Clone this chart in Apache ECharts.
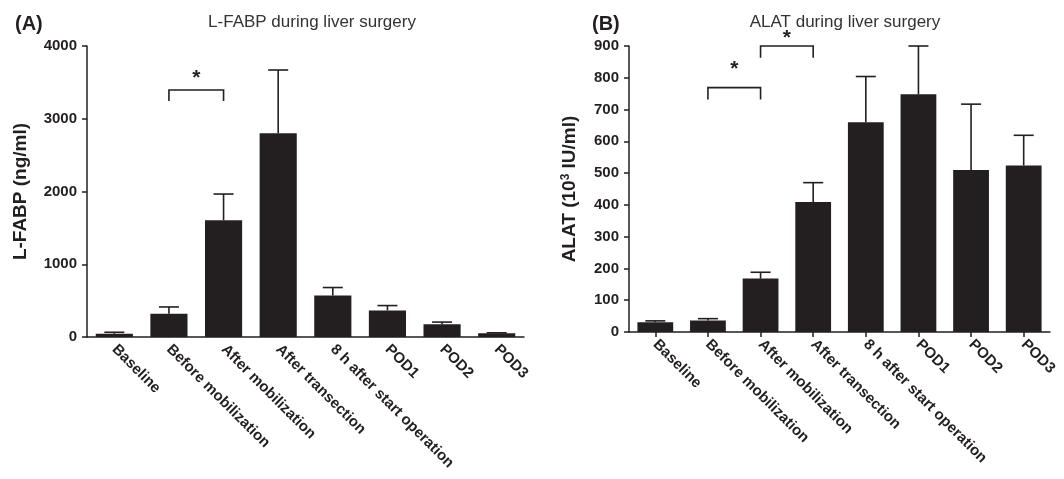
<!DOCTYPE html>
<html><head><meta charset="utf-8">
<script src="https://cdn.jsdelivr.net/npm/echarts@6/dist/echarts.min.js"></script>
<style>html,body{margin:0;padding:0;background:#fff}#c{width:1064px;height:479px}</style>
</head><body><div id="c"></div>
<script>
const categories = ['Baseline','Before mobilization','After mobilization','After transection','8 h after start operation','POD1','POD2','POD3'];
const fabpMean = [45, 320, 1605, 2800, 570, 365, 175, 50];
const fabpErr  = [65, 413, 1965, 3670, 680, 432, 205, 58];
const alatMean = [31, 36, 168, 409, 660, 748, 510, 524];
const alatErr  = [35, 42, 188, 470, 804, 900, 717, 619];
// brackets: [leftCat, rightCat, topValue, legValue, starValue]
const fabpBrackets = [[1, 2, 3395, 3243, 3560]];
const alatBrackets = [[1, 2, 769, 732, 826], [2, 3, 900, 863, 925]];
const fabpTicks = {min: 0, max: 4000, interval: 1000};
const alatTicks = {min: 0, max: 900, interval: 100};

const INK = '#231f20';
const FONT = '"Liberation Sans", Arial, sans-serif';

function errSeries(xi, yi, mean, err) {
  return {
    type: 'custom', xAxisIndex: xi, yAxisIndex: yi, z: 1,
    data: mean.map((m, i) => [i, m, err[i]]),
    renderItem: function (params, api) {
      const base = api.coord([api.value(0), api.value(1)]);
      const top = api.coord([api.value(0), api.value(2)]);
      const half = 10;
      return {
        type: 'group', children: [
          {type: 'line', shape: {x1: base[0], y1: base[1], x2: top[0], y2: top[1]}, style: {stroke: INK, lineWidth: 1.6}},
          {type: 'line', shape: {x1: top[0] - half, y1: top[1], x2: top[0] + half, y2: top[1]}, style: {stroke: INK, lineWidth: 1.6}}
        ]
      };
    }
  };
}
function bracketSeries(xi, yi, br) {
  return {
    type: 'custom', xAxisIndex: xi, yAxisIndex: yi, z: 5, clip: false,
    data: br,
    renderItem: function (params, api) {
      const l = api.coord([api.value(0), api.value(2)]);
      const r = api.coord([api.value(1), api.value(2)]);
      const lb = api.coord([api.value(0), api.value(3)]);
      const s = api.coord([(api.value(0) + api.value(1)) / 2, api.value(4)]);
      const sx = (l[0] + r[0]) / 2;
      return {
        type: 'group', children: [
          {type: 'polyline', shape: {points: [[l[0], lb[1]], [l[0], l[1]], [r[0], r[1]], [r[0], lb[1]]]}, style: {stroke: INK, lineWidth: 1.6, fill: 'none'}},
          {type: 'text', x: sx, y: s[1], style: {text: '*', font: 'bold 21px ' + FONT, fill: INK, align: 'center', verticalAlign: 'middle'}}
        ]
      };
    }
  };
}

const axisLabelX = {interval: 0, rotate: -45, fontFamily: FONT, fontWeight: 'bold', fontSize: 15, color: INK, margin: 10};
const axisLabelY = {fontFamily: FONT, fontWeight: 'bold', fontSize: 15, color: INK, margin: 10, formatter: function (v) { return String(v); }};
const axisLineStyle = {lineStyle: {color: INK, width: 1.5}};

const chart = echarts.init(document.getElementById('c'), null, {renderer: 'canvas'});
chart.setOption({
  animation: false,
  backgroundColor: '#fff',
  title: [
    {text: '(A)', left: 10, top: 9, textStyle: {fontFamily: FONT, fontWeight: 'bold', fontSize: 20, color: INK}},
    {text: '(B)', left: 587, top: 9, textStyle: {fontFamily: FONT, fontWeight: 'bold', fontSize: 20, color: INK}},
    {text: 'L-FABP during liver surgery', left: 307, top: 9, textAlign: 'center', textStyle: {fontFamily: FONT, fontWeight: 'normal', fontSize: 17, color: '#333'}},
    {text: 'ALAT during liver surgery', left: 840, top: 9, textAlign: 'center', textStyle: {fontFamily: FONT, fontWeight: 'normal', fontSize: 17, color: '#333'}}
  ],
  grid: [
    {left: 87, right: 540, top: 46, bottom: 142},
    {left: 629, right: 14, top: 46, bottom: 147}
  ],
  xAxis: [
    {gridIndex: 0, type: 'category', data: categories, axisLine: axisLineStyle, axisTick: {show: false}, axisLabel: axisLabelX},
    {gridIndex: 1, type: 'category', data: categories, axisLine: axisLineStyle, axisTick: {show: true, alignWithLabel: true, length: 5, lineStyle: {color: INK, width: 1.5}}, axisLabel: axisLabelX}
  ],
  yAxis: [
    {gridIndex: 0, type: 'value', min: fabpTicks.min, max: fabpTicks.max, interval: fabpTicks.interval,
     name: 'L-FABP (ng/ml)', nameLocation: 'middle', nameGap: 57, nameRotate: 90,
     nameTextStyle: {fontFamily: FONT, fontWeight: 'bold', fontSize: 19, color: INK},
     axisLine: {show: true, lineStyle: {color: INK, width: 1.5}}, axisTick: {show: true, length: 5, lineStyle: {color: INK, width: 1.5}},
     splitLine: {show: false}, axisLabel: axisLabelY},
    {gridIndex: 1, type: 'value', min: alatTicks.min, max: alatTicks.max, interval: alatTicks.interval,
     name: 'ALAT (10{sup|3} IU/ml)', nameLocation: 'middle', nameGap: 49, nameRotate: 90,
     nameTextStyle: {fontFamily: FONT, fontWeight: 'bold', fontSize: 19, color: INK,
       rich: {sup: {fontFamily: FONT, fontWeight: 'bold', fontSize: 12, color: INK, verticalAlign: 'top', padding: [0, 0, 8, 0]}}},
     axisLine: {show: true, lineStyle: {color: INK, width: 1.5}}, axisTick: {show: true, length: 5, lineStyle: {color: INK, width: 1.5}},
     splitLine: {show: false}, axisLabel: axisLabelY}
  ],
  series: [
    {type: 'bar', xAxisIndex: 0, yAxisIndex: 0, data: fabpMean, barWidth: '68%', itemStyle: {color: INK}, z: 2},
    {type: 'bar', xAxisIndex: 1, yAxisIndex: 1, data: alatMean, barWidth: '68%', itemStyle: {color: INK}, z: 2},
    errSeries(0, 0, fabpMean, fabpErr),
    errSeries(1, 1, alatMean, alatErr),
    bracketSeries(0, 0, fabpBrackets),
    bracketSeries(1, 1, alatBrackets)
  ]
});
</script></body></html>
